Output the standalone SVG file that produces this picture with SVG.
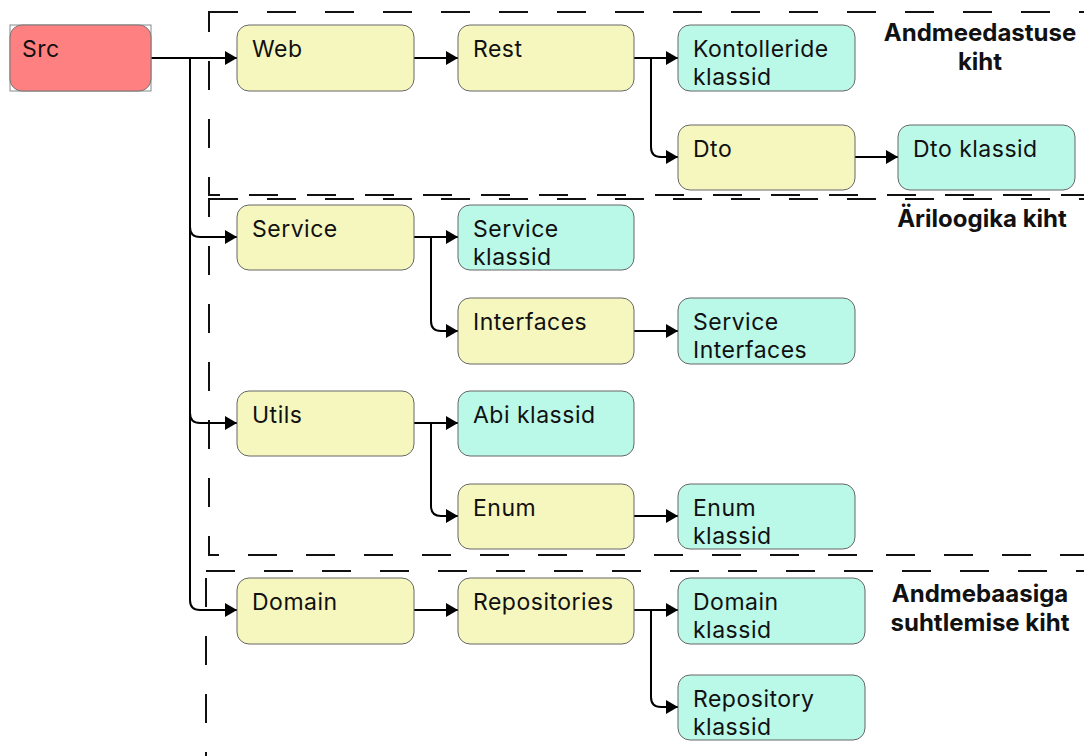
<svg xmlns="http://www.w3.org/2000/svg" width="1084" height="756" viewBox="0 0 1084 756">
  <style>
    .lbl { font-family: Inter, "Liberation Sans", sans-serif; font-size: 23px; letter-spacing: 0.5px; fill: #111; }
    .ttl { font-family: Inter, "Liberation Sans", sans-serif; font-size: 24px; font-weight: bold; fill: #111; text-anchor: middle; }
    .pkg { fill: #F6F7BF; stroke: #666; stroke-width: 1; }
    .cls { fill: #BAF8E8; stroke: #666; stroke-width: 1; }
    .src { fill: #FF8080; stroke: #777; stroke-width: 1; }
    .layer { fill: none; stroke: #111; stroke-width: 2; stroke-dasharray: 29 29; }
    .edge { fill: none; stroke: #000; stroke-width: 2; marker-end: url(#arrow); }
  </style>
  <defs>
    <marker id="arrow" markerUnits="userSpaceOnUse" markerWidth="13" markerHeight="14" refX="12" refY="7" orient="auto">
      <path d="M0,0 L12,7 L0,14 z" fill="#000"/>
    </marker>
  </defs>
  <rect width="1084" height="756" fill="#fff"/>

  <!-- layer frames -->
  <g id="layers">
    <rect class="layer" x="209" y="12" width="900" height="183"/>
    <rect class="layer" x="209" y="199" width="900" height="356"/>
    <rect class="layer" x="206" y="571" width="900" height="220"/>
    <text class="ttl" x="980" y="41">Andmeedastuse</text>
    <text class="ttl" x="980" y="70">kiht</text>
    <text class="ttl" x="982" y="227">Äriloogika kiht</text>
    <text class="ttl" x="980" y="602">Andmebaasiga</text>
    <text class="ttl" x="980" y="631">suhtlemise kiht</text>
  </g>

  <!-- connectors -->
  <g id="connectors">
    <path class="edge" d="M151,58 L237,58"/>
    <path class="edge" d="M190,58 L190,227 Q190,237 200,237 L237,237"/>
    <path class="edge" d="M190,58 L190,413 Q190,423 200,423 L237,423"/>
    <path class="edge" d="M190,58 L190,600 Q190,610 200,610 L237,610"/>
    <path class="edge" d="M414,58 L458,58"/>
    <path class="edge" d="M634,58 L678,58"/>
    <path class="edge" d="M651,58 L651,147 Q651,157 661,157 L678,157"/>
    <path class="edge" d="M855,157 L898,157"/>
    <path class="edge" d="M414,237 L458,237"/>
    <path class="edge" d="M431,237 L431,321 Q431,331 441,331 L458,331"/>
    <path class="edge" d="M634,331 L678,331"/>
    <path class="edge" d="M414,423 L458,423"/>
    <path class="edge" d="M431,423 L431,506 Q431,516 441,516 L458,516"/>
    <path class="edge" d="M634,516 L678,516"/>
    <path class="edge" d="M414,610 L458,610"/>
    <path class="edge" d="M634,610 L678,610"/>
    <path class="edge" d="M651,610 L651,697 Q651,707 661,707 L678,707"/>
  </g>

  <!-- nodes -->
  <g id="n-src">
    <rect x="10" y="25" width="141" height="66" fill="none" stroke="#888" stroke-width="1"/>
    <rect class="src" x="10" y="25" width="141" height="66" rx="12"/>
    <text class="lbl" x="22" y="57">Src</text>
  </g>
  <g id="n-web">
    <rect class="pkg" x="237" y="25" width="177" height="66" rx="12"/>
    <text class="lbl" x="252" y="57">Web</text>
  </g>
  <g id="n-rest">
    <rect class="pkg" x="458" y="25" width="176" height="66" rx="12"/>
    <text class="lbl" x="473" y="57">Rest</text>
  </g>
  <g id="n-kontolleride">
    <rect class="cls" x="678" y="25" width="177" height="66" rx="12"/>
    <text class="lbl" x="693" y="57">Kontolleride</text>
    <text class="lbl" x="693" y="85">klassid</text>
  </g>
  <g id="n-dto">
    <rect class="pkg" x="678" y="125" width="177" height="65" rx="12"/>
    <text class="lbl" x="693" y="157">Dto</text>
  </g>
  <g id="n-dto-klassid">
    <rect class="cls" x="898" y="125" width="177" height="65" rx="12"/>
    <text class="lbl" x="913" y="157">Dto klassid</text>
  </g>
  <g id="n-service">
    <rect class="pkg" x="237" y="205" width="177" height="65" rx="12"/>
    <text class="lbl" x="252" y="237">Service</text>
  </g>
  <g id="n-service-klassid">
    <rect class="cls" x="458" y="205" width="176" height="65" rx="12"/>
    <text class="lbl" x="473" y="237">Service</text>
    <text class="lbl" x="473" y="265">klassid</text>
  </g>
  <g id="n-interfaces">
    <rect class="pkg" x="458" y="298" width="176" height="66" rx="12"/>
    <text class="lbl" x="473" y="330">Interfaces</text>
  </g>
  <g id="n-service-interfaces">
    <rect class="cls" x="678" y="298" width="177" height="66" rx="12"/>
    <text class="lbl" x="693" y="330">Service</text>
    <text class="lbl" x="693" y="358">Interfaces</text>
  </g>
  <g id="n-utils">
    <rect class="pkg" x="237" y="391" width="177" height="65" rx="12"/>
    <text class="lbl" x="252" y="423">Utils</text>
  </g>
  <g id="n-abi-klassid">
    <rect class="cls" x="458" y="391" width="176" height="65" rx="12"/>
    <text class="lbl" x="473" y="423">Abi klassid</text>
  </g>
  <g id="n-enum">
    <rect class="pkg" x="458" y="484" width="176" height="65" rx="12"/>
    <text class="lbl" x="473" y="516">Enum</text>
  </g>
  <g id="n-enum-klassid">
    <rect class="cls" x="678" y="484" width="177" height="65" rx="12"/>
    <text class="lbl" x="693" y="516">Enum</text>
    <text class="lbl" x="693" y="544">klassid</text>
  </g>
  <g id="n-domain">
    <rect class="pkg" x="237" y="578" width="177" height="66" rx="12"/>
    <text class="lbl" x="252" y="610">Domain</text>
  </g>
  <g id="n-repositories">
    <rect class="pkg" x="458" y="578" width="176" height="66" rx="12"/>
    <text class="lbl" x="473" y="610">Repositories</text>
  </g>
  <g id="n-domain-klassid">
    <rect class="cls" x="678" y="578" width="187" height="66" rx="12"/>
    <text class="lbl" x="693" y="610">Domain</text>
    <text class="lbl" x="693" y="638">klassid</text>
  </g>
  <g id="n-repository-klassid">
    <rect class="cls" x="678" y="675" width="187" height="65" rx="12"/>
    <text class="lbl" x="693" y="707">Repository</text>
    <text class="lbl" x="693" y="735">klassid</text>
  </g>
</svg>
